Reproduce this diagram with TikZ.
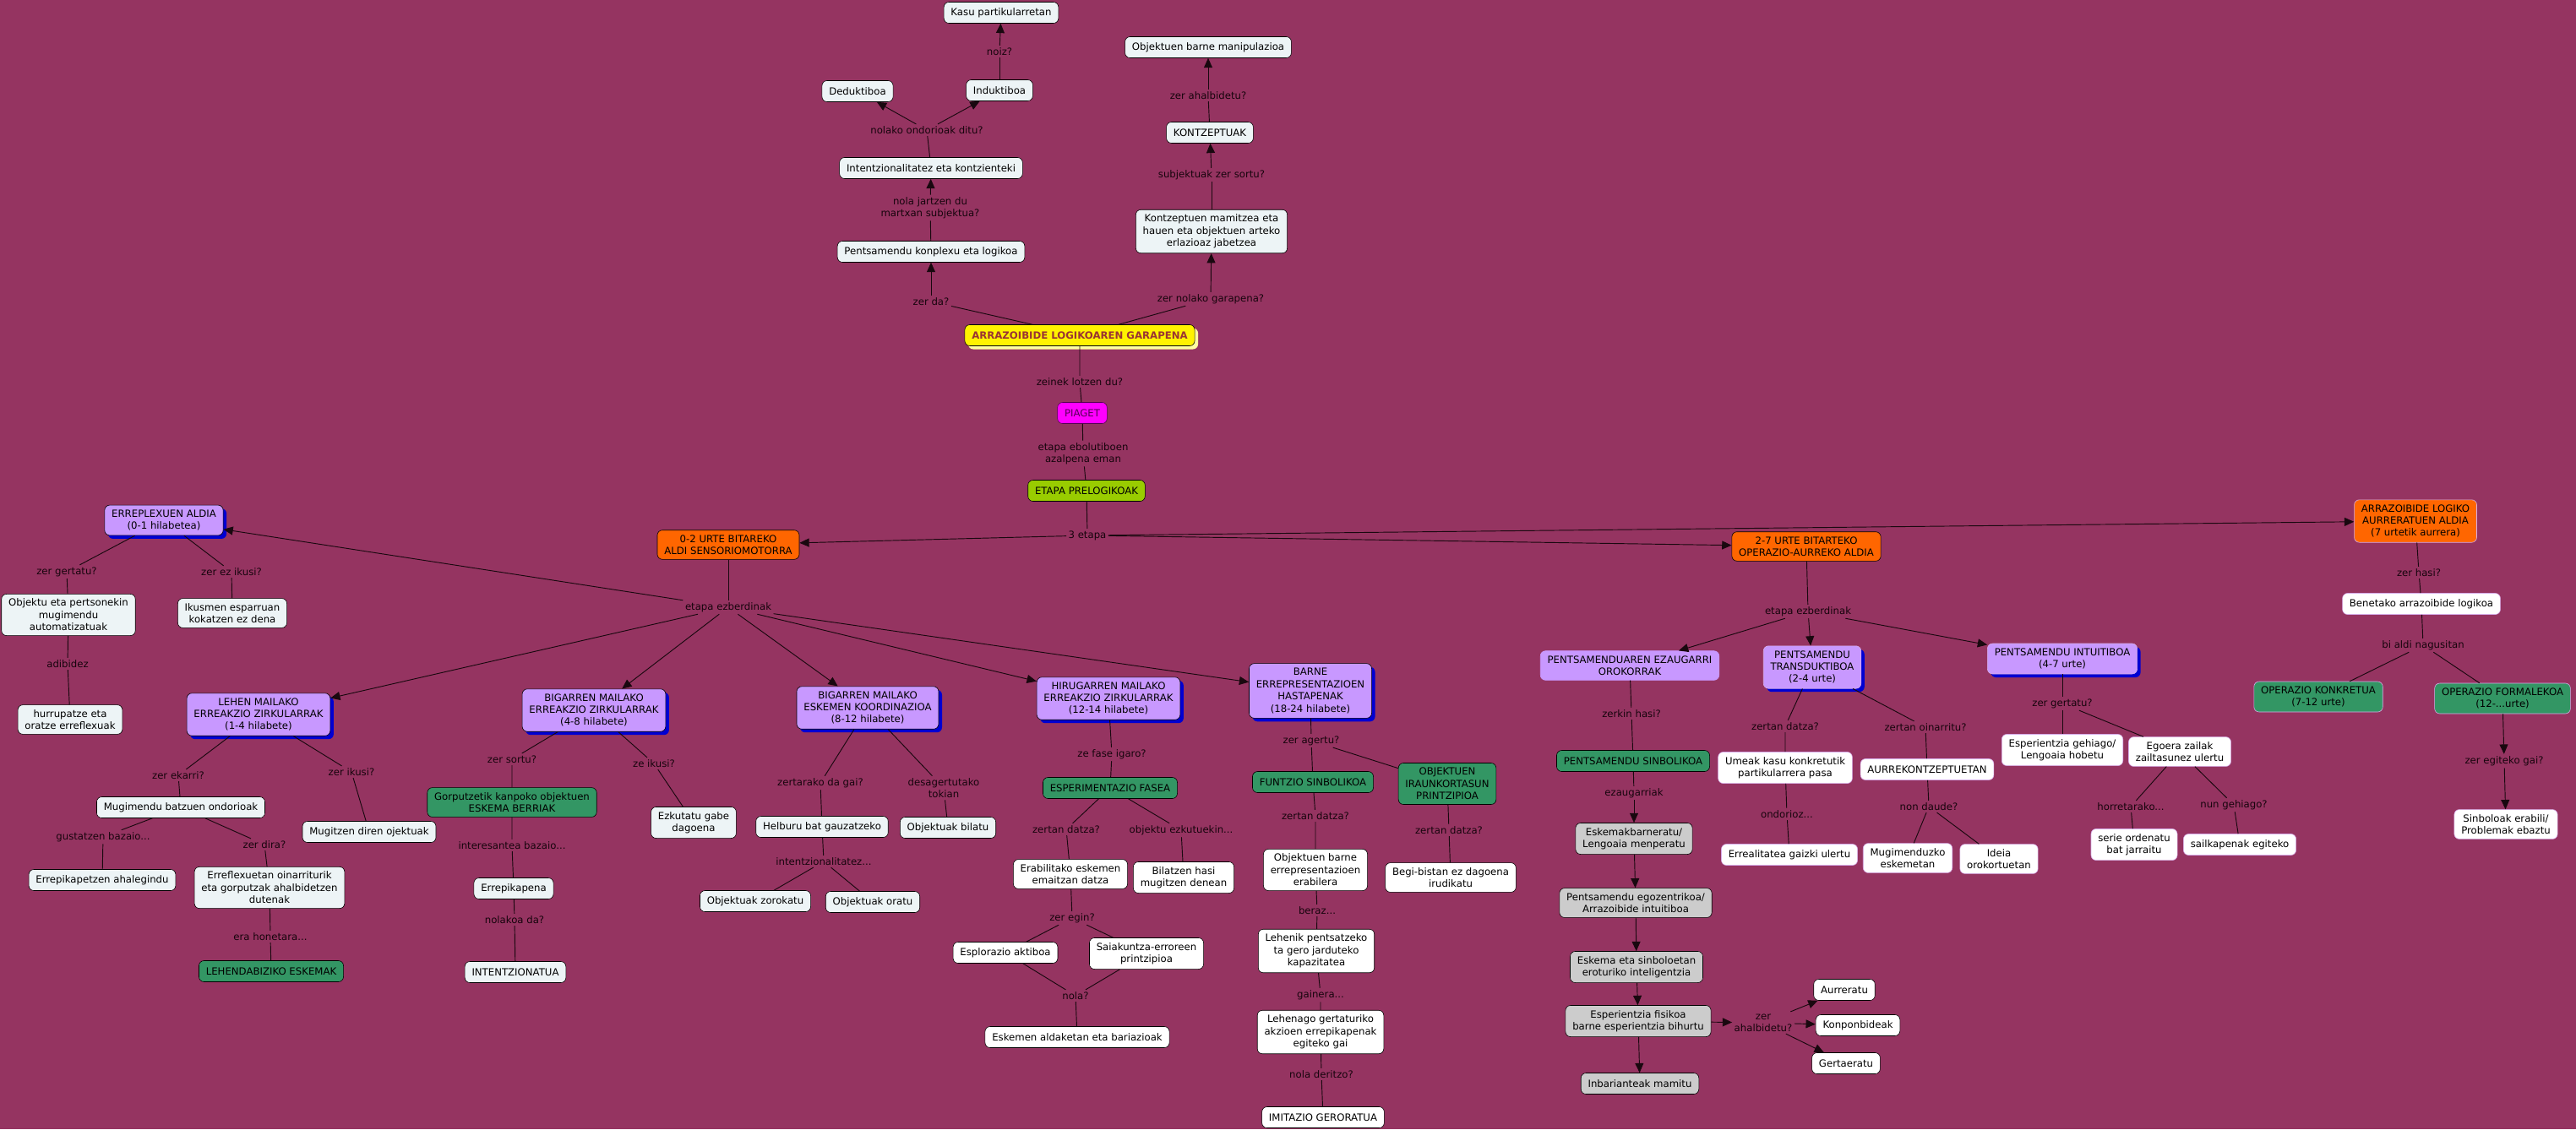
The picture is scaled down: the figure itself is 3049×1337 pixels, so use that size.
\documentclass[tikz,border=0pt]{standalone}
\usepackage{fontspec}
\setmainfont{DejaVu Sans}
\usepackage{tikz}
\usetikzlibrary{arrows.meta,shadows}
\definecolor{bgmaroon}{RGB}{149,52,97}
\definecolor{paleblue}{RGB}{237,244,246}
\definecolor{lavender}{RGB}{200,152,255}
\definecolor{shadowblue}{RGB}{0,0,210}
\definecolor{orangebox}{RGB}{255,102,0}
\definecolor{mapgreen}{RGB}{51,150,100}
\definecolor{mapgray}{RGB}{204,204,204}
\definecolor{lilac}{RGB}{214,172,232}
\definecolor{lbltext}{RGB}{22,4,12}
\definecolor{linecol}{RGB}{25,8,15}
\definecolor{titletext}{RGB}{153,51,51}
\definecolor{paleyellow}{RGB}{255,255,160}
\definecolor{piagetpink}{RGB}{255,0,255}
\definecolor{piagettext}{RGB}{85,0,85}
\definecolor{prelogreen}{RGB}{153,204,0}
\tikzset{
  concept/.style={rectangle,rounded corners=1.8mm,draw=black,line width=.5pt,
    align=center,inner xsep=2.5mm,inner ysep=1.7mm,minimum height=7.5mm,
    font=\fontsize{10}{12.3}\selectfont,text=black},
  pale/.style={concept,fill=paleblue},
  whitebox/.style={concept,fill=white},
  softbox/.style={concept,fill=white,draw=lilac},
  lavbox/.style={concept,fill=lavender,
    drop shadow={shadow xshift=1.2mm,shadow yshift=-1.2mm,fill=shadowblue,opacity=1}},
  lavsoft/.style={lavbox,draw=lilac},
  lavflat/.style={concept,fill=lavender,draw=lavender},
  orangeb/.style={concept,fill=orangebox},
  orangesoft/.style={concept,fill=orangebox,draw=lilac},
  greenbox/.style={concept,fill=mapgreen},
  greensoft/.style={concept,fill=mapgreen,draw=lilac},
  graybox/.style={concept,fill=mapgray},
  lbl/.style={font=\fontsize{10}{12.3}\selectfont,text=lbltext,align=center,inner sep=2pt},
  link/.style={draw=linecol,line width=.8pt},
  arr/.style={link,-{Triangle[length=3.4mm,width=3mm]}}
}

\begin{document}
\begin{tikzpicture}[
  x=0.3mm,y=-0.3mm,
  mainbox/.style={concept,fill=yellow,text=titletext,
    font=\fontsize{10}{12.3}\selectfont\bfseries,
    drop shadow={shadow xshift=1.2mm,shadow yshift=-1.2mm,fill=paleyellow,opacity=1}},
  piagetbox/.style={concept,fill=piagetpink,text=piagettext,draw=piagettext},
  prelog/.style={concept,fill=prelogreen}
]

  \useasboundingbox (0,0) rectangle (3049,1337);
  \fill[bgmaroon] (0,0) rectangle (3049,1337);

  % top: logical reasoning
  \node[pale] (kasu) at (1185,15) {Kasu partikularretan};
  \node[lbl] (lnoiz) at (1183,61) {noiz?};
  \node[pale] (induk) at (1183,107) {Induktiboa};
  \node[pale] (deduk) at (1015,108) {Deduktiboa};
  \node[lbl] (londorio) at (1097,154) {nolako ondorioak ditu?};
  \node[pale] (intentz) at (1102,199) {Intentzionalitatez eta kontzienteki};
  \node[lbl] (lmartxan) at (1101,246) {nola jartzen du\\martxan subjektua?};
  \node[pale] (konplexu) at (1102,298) {Pentsamendu konplexu eta logikoa};
  \node[lbl] (lzerda) at (1102,357) {zer da?};
  \node[mainbox] (garapena) at (1278,397) {ARRAZOIBIDE LOGIKOAREN GARAPENA};
  \node[lbl] (lgarapena) at (1433,354) {zer nolako garapena?};
  \node[pale] (mamitze) at (1434,274) {Kontzeptuen mamitzea eta\\hauen eta objektuen arteko\\erlazioaz jabetzea};
  \node[lbl] (lsortu) at (1434,207) {subjektuak zer sortu?};
  \node[pale] (kontzep) at (1432,157) {KONTZEPTUAK};
  \node[lbl] (lahal) at (1430,113) {zer ahalbidetu?};
  \node[pale] (manipul) at (1430,56) {Objektuen barne manipulazioa};
  \node[lbl] (llotzen) at (1278,452) {zeinek lotzen du?};
  \node[piagetbox] (piaget) at (1281,489) {PIAGET};
  \node[lbl] (lebolu) at (1282,537) {etapa ebolutiboen\\azalpena eman};
  \node[prelog] (prelogik) at (1286,581) {ETAPA PRELOGIKOAK};
  \node[lbl] (l3etapa) at (1287,634) {3 etapa};

  % 0-2 urte
  \node[orangeb] (sensor) at (862,645) {0-2 URTE BITAREKO\\ALDI SENSORIOMOTORRA};
  \node[lbl] (lsens) at (862,719) {etapa ezberdinak};
  \node[lavbox] (errepl) at (194,616) {ERREPLEXUEN ALDIA\\(0-1 hilabetea)};
  \node[lbl] (lgertatu) at (79,677) {zer gertatu?};
  \node[lbl] (lezikusi) at (274,677) {zer ez ikusi?};
  \node[pale] (automat) at (81,728) {Objektu eta pertsonekin\\mugimendu\\automatizatuak};
  \node[pale] (ikusmen) at (275,726) {Ikusmen esparruan\\kokatzen ez dena};
  \node[lbl] (ladibidez) at (80,786) {adibidez};
  \node[pale] (hurrupa) at (83,852) {hurrupatze eta\\oratze erreflexuak};
  \node[lavbox] (lehen) at (306,846) {LEHEN MAILAKO\\ERREAKZIO ZIRKULARRAK\\(1-4 hilabete)};
  \node[lbl] (lekarri) at (211,918) {zer ekarri?};
  \node[lbl] (lzerikusi) at (416,914) {zer ikusi?};
  \node[pale] (ondorio) at (214,956) {Mugimendu batzuen ondorioak};
  \node[pale] (mugitzen) at (437,985) {Mugitzen diren ojektuak};
  \node[lbl] (lgustatzen) at (122,991) {gustatzen bazaio...};
  \node[lbl] (ldira) at (313,1000) {zer dira?};
  \node[pale] (errepik1) at (121,1042) {Errepikapetzen ahalegindu};
  \node[pale] (erreflex) at (319,1051) {Erreflexuetan oinarriturik\\eta gorputzak ahalbidetzen\\dutenak};
  \node[lbl] (lhonetara) at (320,1109) {era honetara...};
  \node[greenbox] (lehendab) at (321,1150) {LEHENDABIZIKO ESKEMAK};
  \node[lavbox] (bigarrenE) at (703,841) {BIGARREN MAILAKO\\ERREAKZIO ZIRKULARRAK\\(4-8 hilabete)};
  \node[lbl] (lsortu2) at (606,899) {zer sortu?};
  \node[lbl] (lzeikusi) at (774,904) {ze ikusi?};
  \node[greenbox] (gorputz) at (606,950) {Gorputzetik kanpoko objektuen\\ESKEMA BERRIAK};
  \node[pale] (ezkutatu) at (821,974) {Ezkutatu gabe\\dagoena};
  \node[lbl] (linteres) at (606,1001) {interesantea bazaio...};
  \node[pale] (errepik2) at (608,1052) {Errepikapena};
  \node[lbl] (lnolakoa) at (609,1089) {nolakoa da?};
  \node[pale] (intentzio) at (610,1151) {INTENTZIONATUA};
  \node[lavbox] (koordin) at (1027,838) {BIGARREN MAILAKO\\ESKEMEN KOORDINAZIOA\\(8-12 hilabete)};
  \node[lbl] (lgai) at (971,927) {zertarako da gai?};
  \node[lbl] (ltokian) at (1117,933) {desagertutako\\tokian};
  \node[pale] (helburu) at (973,979) {Helburu bat gauzatzeko};
  \node[pale] (bilatu) at (1122,980) {Objektuak bilatu};
  \node[lbl] (lintentz) at (975,1020) {intentzionalitatez...};
  \node[pale] (zorokatu) at (894,1067) {Objektuak zorokatu};
  \node[pale] (oratu) at (1033,1068) {Objektuak oratu};
  \node[lavbox] (hirug) at (1312,827) {HIRUGARREN MAILAKO\\ERREAKZIO ZIRKULARRAK\\(12-14 hilabete)};
  \node[lbl] (lfase) at (1316,893) {ze fase igaro?};
  \node[greenbox] (esperim) at (1314,933) {ESPERIMENTAZIO FASEA};
  \node[lbl] (ldatza1) at (1262,982) {zertan datza?};
  \node[lbl] (lezkutu) at (1398,983) {objektu ezkutuekin...};
  \node[whitebox] (emaitza) at (1267,1035) {Erabilitako eskemen\\emaitzan datza};
  \node[whitebox] (bilatzen) at (1401,1039) {Bilatzen hasi\\mugitzen denean};
  \node[lbl] (legin) at (1269,1087) {zer egin?};
  \node[whitebox] (esplor) at (1190,1128) {Esplorazio aktiboa};
  \node[whitebox] (saiak) at (1357,1129) {Saiakuntza-erroreen\\printzipioa};
  \node[lbl] (lnola) at (1273,1179) {nola?};
  \node[whitebox] (aldaketa) at (1275,1228) {Eskemen aldaketan eta bariazioak};
  \node[lavbox] (barne) at (1551,818) {BARNE\\ERREPRESENTAZIOEN\\HASTAPENAK\\(18-24 hilabete)};
  \node[lbl] (lagertu) at (1552,877) {zer agertu?};
  \node[greenbox] (funtzio) at (1554,926) {FUNTZIO SINBOLIKOA};
  \node[greenbox] (iraunk) at (1713,928) {OBJEKTUEN\\IRAUNKORTASUN\\PRINTZIPIOA};
  \node[lbl] (ldatza2) at (1557,966) {zertan datza?};
  \node[lbl] (ldatza3) at (1715,983) {zertan datza?};
  \node[whitebox] (erabilera) at (1557,1030) {Objektuen barne\\errepresentazioen\\erabilera};
  \node[whitebox] (begibist) at (1717,1039) {Begi-bistan ez dagoena\\irudikatu};
  \node[lbl] (lberaz) at (1559,1078) {beraz...};
  \node[whitebox] (lehenik) at (1558,1126) {Lehenik pentsatzeko\\ta gero jarduteko\\kapazitatea};
  \node[lbl] (lgainera) at (1563,1178) {gainera...};
  \node[whitebox] (lehenago) at (1563,1222) {Lehenago gertaturiko\\akzioen errepikapenak\\egiteko gai};
  \node[lbl] (lderitzo) at (1564,1272) {nola deritzo?};
  \node[whitebox] (imitazio) at (1566,1323) {IMITAZIO GERORATUA};

  % 2-7 urte
  \node[orangeb] (operaur) at (2138,647) {2-7 URTE BITARTEKO\\OPERAZIO-AURREKO ALDIA};
  \node[lbl] (lsens2) at (2140,724) {etapa ezberdinak};
  \node[lavflat] (ezaug) at (1929,788) {PENTSAMENDUAREN EZAUGARRI\\OROKORRAK};
  \node[lavsoft] (transd) at (2145,790) {PENTSAMENDU\\TRANSDUKTIBOA\\(2-4 urte)};
  \node[lavsoft] (intuit) at (2441,780) {PENTSAMENDU INTUITIBOA\\(4-7 urte)};
  \node[lbl] (lhasi) at (1931,845) {zerkin hasi?};
  \node[greenbox] (sinbol) at (1933,901) {PENTSAMENDU SINBOLIKOA};
  \node[lbl] (lezaug) at (1934,939) {ezaugarriak};
  \node[graybox] (eskemak) at (1934,993) {Eskemakbarneratu/\\Lengoaia menperatu};
  \node[graybox] (egozen) at (1936,1069) {Pentsamendu egozentrikoa/\\Arrazoibide intuitiboa};
  \node[graybox] (inteli) at (1937,1145) {Eskema eta sinboloetan\\eroturiko inteligentzia};
  \node[graybox] (fisiko) at (1939,1209) {Esperientzia fisikoa\\barne esperientzia bihurtu};
  \node[graybox] (inbar) at (1941,1283) {Inbarianteak mamitu};
  \node[lbl] (lahal2) at (2087,1211) {zer\\ahalbidetu?};
  \node[whitebox] (aurreratu) at (2183,1172) {Aurreratu};
  \node[whitebox] (konpon) at (2199,1214) {Konponbideak};
  \node[whitebox] (gertaera) at (2185,1259) {Gertaeratu};
  \node[lbl] (ldatza4) at (2113,860) {zertan datza?};
  \node[lbl] (loinarri) at (2279,861) {zertan oinarritu?};
  \node[softbox] (umeak) at (2113,909) {Umeak kasu konkretutik\\partikularrera pasa};
  \node[softbox] (aurrek) at (2281,911) {AURREKONTZEPTUETAN};
  \node[lbl] (londorioz) at (2115,964) {ondorioz...};
  \node[lbl] (ldaude) at (2283,955) {non daude?};
  \node[softbox] (errealit) at (2118,1012) {Errealitatea gaizki ulertu};
  \node[softbox] (mugeskem) at (2258,1016) {Mugimenduzko\\eskemetan};
  \node[softbox] (ideia) at (2366,1017) {Ideia\\orokortuetan};
  \node[lbl] (lgertatu2) at (2441,833) {zer gertatu?};
  \node[softbox] (gehiago) at (2441,888) {Esperientzia gehiago/\\Lengoaia hobetu};
  \node[softbox] (zailak) at (2580,890) {Egoera zailak\\zailtasunez ulertu};
  \node[lbl] (lhorretara) at (2522,955) {horretarako...};
  \node[lbl] (lnun) at (2644,953) {nun gehiago?};
  \node[softbox] (serie) at (2526,1000) {serie ordenatu\\bat jarraitu};
  \node[softbox] (sailk) at (2651,1000) {sailkapenak egiteko};

  % 7 urtetik aurrera
  \node[orangesoft] (aurrerat) at (2859,617) {ARRAZOIBIDE LOGIKO\\AURRERATUEN ALDIA\\(7 urtetik aurrera)};
  \node[lbl] (lzerhasi) at (2863,678) {zer hasi?};
  \node[softbox] (benetako) at (2866,715) {Benetako arrazoibide logikoa};
  \node[lbl] (lbialdi) at (2868,764) {bi aldi nagusitan};
  \node[greensoft] (konkret) at (2744,825) {OPERAZIO KONKRETUA\\(7-12 urte)};
  \node[greensoft] (formal) at (2962,827) {OPERAZIO FORMALEKOA\\(12-...urte)};
  \node[lbl] (legiteko) at (2964,901) {zer egiteko gai?};
  \node[softbox] (sinbolo) at (2966,976) {Sinboloak erabili/\\Problemak ebaztu};

  % links
  \draw[link] (garapena) -- (lzerda);
  \draw[arr] (lzerda) -- (konplexu);
  \draw[link] (konplexu) -- (lmartxan);
  \draw[arr] (lmartxan) -- (intentz);
  \draw[link] (intentz) -- (londorio);
  \draw[arr] (londorio) -- (deduk);
  \draw[arr] (londorio) -- (induk);
  \draw[link] (induk) -- (lnoiz);
  \draw[arr] (lnoiz) -- (kasu);
  \draw[link] (garapena) -- (lgarapena);
  \draw[arr] (lgarapena) -- (mamitze);
  \draw[link] (mamitze) -- (lsortu);
  \draw[arr] (lsortu) -- (kontzep);
  \draw[link] (kontzep) -- (lahal);
  \draw[arr] (lahal) -- (manipul);
  \draw[link] (garapena) -- (llotzen) -- (piaget) -- (lebolu) -- (prelogik) -- (l3etapa);
  \foreach \t in {sensor,operaur,aurrerat}
    \draw[arr] (l3etapa) -- (\t);

  \draw[link] (sensor) -- (lsens);
  \foreach \t in {errepl,lehen,bigarrenE,koordin,hirug,barne}
    \draw[arr] (lsens) -- (\t);
  \draw[link] (errepl) -- (lgertatu) -- (automat) -- (ladibidez) -- (hurrupa);
  \draw[link] (errepl) -- (lezikusi) -- (ikusmen);
  \draw[link] (lehen) -- (lekarri) -- (ondorio);
  \draw[link] (lehen) -- (lzerikusi) -- (mugitzen);
  \draw[link] (ondorio) -- (lgustatzen) -- (errepik1);
  \draw[link] (ondorio) -- (ldira) -- (erreflex) -- (lhonetara) -- (lehendab);
  \draw[link] (bigarrenE) -- (lsortu2) -- (gorputz) -- (linteres) -- (errepik2) -- (lnolakoa) -- (intentzio);
  \draw[link] (bigarrenE) -- (lzeikusi) -- (ezkutatu);
  \draw[link] (koordin) -- (lgai) -- (helburu) -- (lintentz) -- (zorokatu);
  \draw[link] (lintentz) -- (oratu);
  \draw[link] (koordin) -- (ltokian) -- (bilatu);
  \draw[link] (hirug) -- (lfase) -- (esperim) -- (ldatza1) -- (emaitza) -- (legin);
  \draw[link] (esperim) -- (lezkutu) -- (bilatzen);
  \draw[link] (legin) -- (esplor) -- (lnola);
  \draw[link] (legin) -- (saiak) -- (lnola) -- (aldaketa);
  \draw[link] (barne) -- (lagertu) -- (funtzio) -- (ldatza2) -- (erabilera) -- (lberaz) -- (lehenik)
    -- (lgainera) -- (lehenago) -- (lderitzo) -- (imitazio);
  \draw[link] (lagertu) -- (iraunk) -- (ldatza3) -- (begibist);

  \draw[link] (operaur) -- (lsens2);
  \foreach \t in {ezaug,transd,intuit}
    \draw[arr] (lsens2) -- (\t);
  \draw[link] (ezaug) -- (lhasi) -- (sinbol) -- (lezaug);
  \draw[arr] (lezaug) -- (eskemak);
  \draw[arr] (eskemak) -- (egozen);
  \draw[arr] (egozen) -- (inteli);
  \draw[arr] (inteli) -- (fisiko);
  \draw[arr] (fisiko) -- (inbar);
  \draw[arr] (fisiko) -- (lahal2);
  \foreach \t in {aurreratu,konpon,gertaera}
    \draw[arr] (lahal2) -- (\t);
  \draw[link] (transd) -- (ldatza4) -- (umeak) -- (londorioz) -- (errealit);
  \draw[link] (transd) -- (loinarri) -- (aurrek) -- (ldaude) -- (mugeskem);
  \draw[link] (ldaude) -- (ideia);
  \draw[link] (intuit) -- (lgertatu2) -- (gehiago);
  \draw[link] (lgertatu2) -- (zailak);
  \draw[link] (zailak) -- (lhorretara) -- (serie);
  \draw[link] (zailak) -- (lnun) -- (sailk);

  \draw[link] (aurrerat) -- (lzerhasi) -- (benetako) -- (lbialdi) -- (konkret);
  \draw[link] (lbialdi) -- (formal);
  \draw[arr] (formal) -- (legiteko);
  \draw[arr] (legiteko) -- (sinbolo);

\end{tikzpicture}
\end{document}
